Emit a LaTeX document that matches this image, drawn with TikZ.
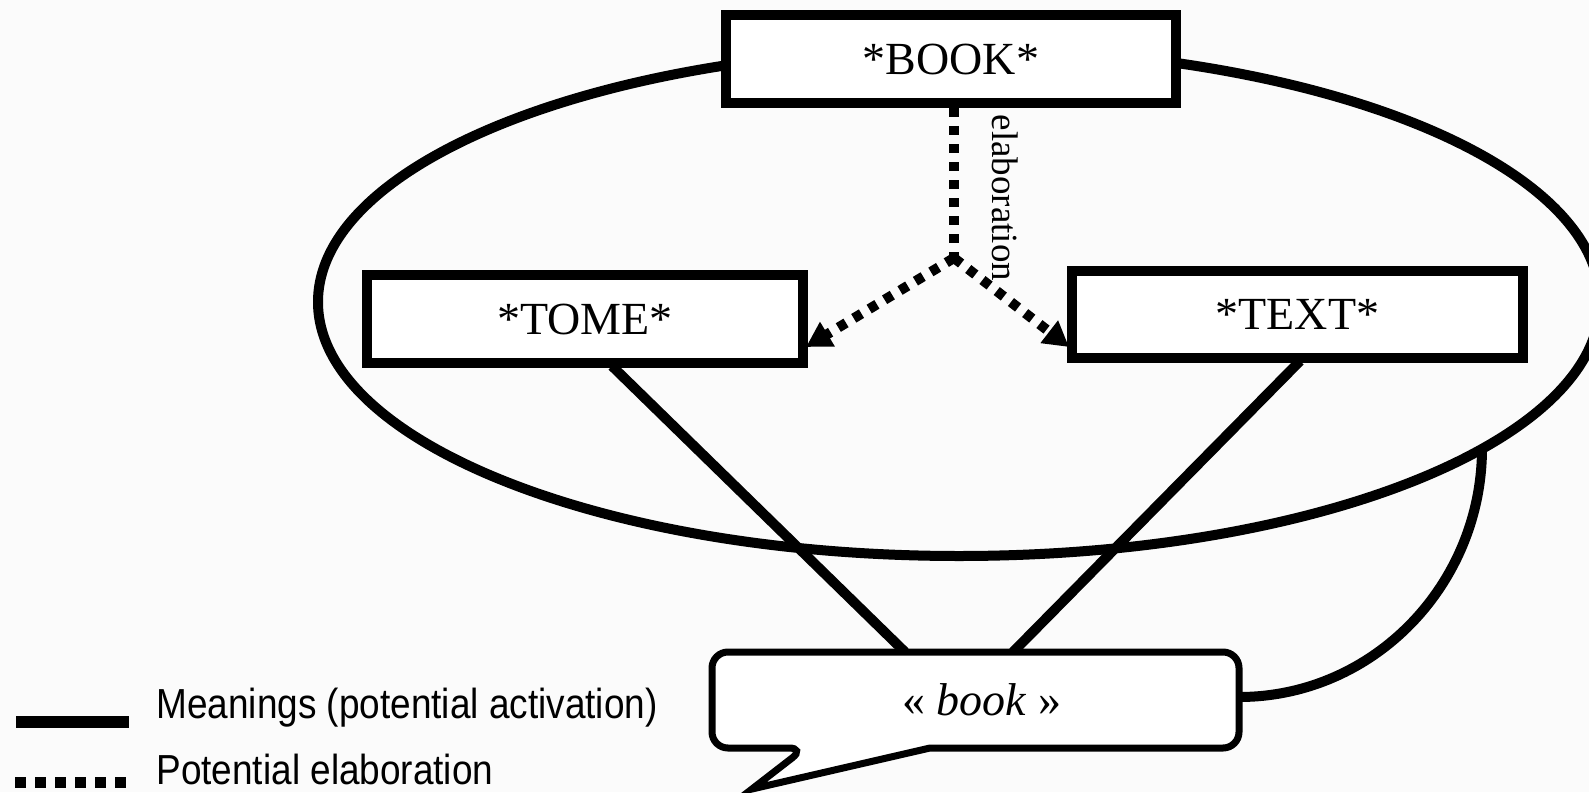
\documentclass[tikz,border=0pt]{standalone}
\usepackage{fontspec}
\setmainfont{Liberation Serif}
\newfontfamily\legendfont{Liberation Sans}
\usetikzlibrary{arrows.meta}
\pgfdeclarelayer{back}
\pgfsetlayers{back,main}
\definecolor{bgcol}{HTML}{FBFBFB}
\begin{document}
\begin{tikzpicture}[x=0.5pt,y=-0.5pt,
  box/.style={draw, line width=5pt, fill=white, inner sep=0pt, font=\fontsize{23}{27}\selectfont},
  thickline/.style={line width=5pt},
  elabline/.style={line width=5pt, dash pattern=on 4.5pt off 4.5pt},
  elabarrow/.style={elabline, -{Triangle[length=12.5pt,width=13.5pt]}},
  legendtext/.style={anchor=west, inner sep=0pt, font=\legendfont\fontsize{21}{24}\selectfont}]
\useasboundingbox (0,0) rectangle (1589,792);
% nodes
\node[box, minimum width=225pt, minimum height=44pt] (book) at (951,59) {*BOOK*};
\node[box, minimum width=218pt, minimum height=44pt] (tome) at (585,319) {*TOME*};
\node[box, minimum width=225.5pt, minimum height=43.5pt] (text) at (1297.5,314.5) {*TEXT*};
% bubble
\draw[line width=3.5pt, fill=white] (930,748) [rounded corners=8pt] -- (1239,748) -- (1239,652) -- (712,652) -- (712,748) -- (805,748) [sharp corners] -- (752,789) -- cycle;
\node[inner sep=0pt, font=\fontsize{23}{27}\selectfont] (bw) at (982,700) {« \textit{book} »};
% coordinates
\coordinate (j) at (954,258);
\coordinate (tomeIn) at (806,347);
\coordinate (textIn) at (1069,347);
\coordinate (tomeOut) at (612,366);
\coordinate (textOut) at (1300,361);
\coordinate (bubL) at (905,652);
\coordinate (bubR) at (1013,652);
\coordinate (eR) at (1482,448);
\coordinate (bubE) at (1239,697);
\begin{pgfonlayer}{back}
\fill[bgcol] (0,0) rectangle (1589,792);
\draw[thickline] (959,302) ellipse [x radius=320.5pt, y radius=127pt];
\draw[thickline] (eR) .. controls (1482,584) and (1374,697) .. (bubE);
\draw[thickline] (tomeOut) -- (bubL);
\draw[thickline] (textOut) -- (bubR);
\end{pgfonlayer}
% elaboration
\draw[elabline] (book.south -| j) -- (j);
\draw[elabarrow] (j) -- (tomeIn);
\draw[elabarrow] (j) -- (textIn);
\node[rotate=-90, inner sep=0pt, font=\fontsize{18.5}{20}\selectfont] (elab) at (1005,198) {elaboration};
% legend
\coordinate (la) at (16,722);
\coordinate (lb) at (129,722);
\coordinate (lc) at (15,782);
\coordinate (ld) at (126,782);
\draw[line width=6pt] (la) -- (lb);
\draw[line width=5.5pt, dash pattern=on 5.5pt off 4.5pt] (lc) -- (ld);
\node[legendtext] (leg1) at (156,708) {\scalebox{0.88}[1]{Meanings (potential activation)}};
\node[legendtext] (leg2) at (156,769) {\scalebox{0.88}[1]{Potential elaboration}};
\end{tikzpicture}
\end{document}
